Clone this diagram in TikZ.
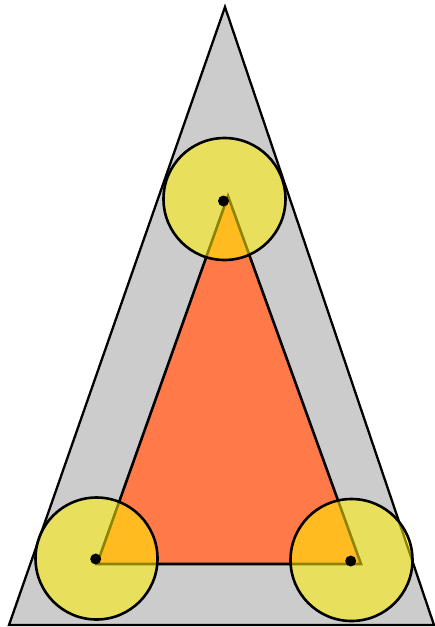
\documentclass[tikz,border=0pt]{standalone}
\usetikzlibrary{calc}
\definecolor{bggray}{HTML}{CCCCCC}
\definecolor{coral}{HTML}{FF7A48}
\tikzset{
  outertri/.style={draw=black, fill=bggray, line width=2.3pt, line join=miter},
  innertri/.style={draw=black, fill=coral, line width=2.6pt, line join=miter},
  disc/.style={draw=black, fill=yellow, fill opacity=0.55, line width=2.6pt},
  centerdot/.style={circle, fill=black, inner sep=0pt, minimum size=11pt},
}
\begin{document}
\begin{tikzpicture}[x=1pt, y=-1pt]
\useasboundingbox (0,0) rectangle (435,627);
% outer triangle
\coordinate (OA) at (225,7);
\coordinate (OB) at (9,625);
\coordinate (OC) at (434,625);
\draw[outertri] (OA) -- (OB) -- (OC) -- cycle;
% inner triangle
\coordinate (IA) at (228,196);
\coordinate (IB) at (97,564);
\coordinate (IC) at (361,564);
\draw[innertri] (IA) -- (IB) -- (IC) -- cycle;
% circles
\coordinate (CA) at (224.5,199);
\coordinate (CB) at (96.5,558.5);
\coordinate (CC) at (351.5,560);
\draw[disc] (CA) circle[radius=61];
\draw[disc] (CB) circle[radius=61];
\draw[disc] (CC) circle[radius=61];
% dots
\node[centerdot] (DA) at (223.5,201) {};
\node[centerdot] (DB) at (95.7,559) {};
\node[centerdot] (DC) at (350.7,561) {};
\end{tikzpicture}
\end{document}
